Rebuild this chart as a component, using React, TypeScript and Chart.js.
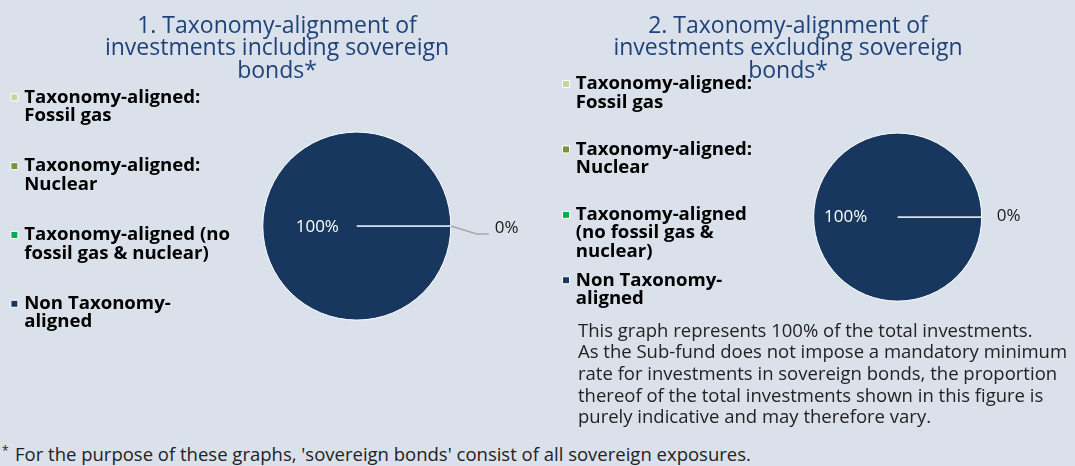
import React, { useEffect, useRef } from "react";
import { Chart, registerables } from "chart.js";

Chart.register(...registerables);

// ---------- data ----------
const legendLinesIncl = [
  ["Taxonomy-aligned:", "Fossil gas"],
  ["Taxonomy-aligned:", "Nuclear"],
  ["Taxonomy-aligned (no", "fossil gas & nuclear)"],
  ["Non Taxonomy-", "aligned"],
];
const legendLinesExcl = [
  ["Taxonomy-aligned:", "Fossil gas"],
  ["Taxonomy-aligned:", "Nuclear"],
  ["Taxonomy-aligned", "(no fossil gas &", "nuclear)"],
  ["Non Taxonomy-", "aligned"],
];
const valuesIncl = [0, 0, 0, 100];
const valuesExcl = [0, 0, 0, 100];
const sliceColors = ["#c3d69b", "#77933c", "#00b050", "#17375e"];
const titleIncl = ["1. Taxonomy-alignment of", "investments including sovereign", "bonds*"];
const titleExcl = ["2. Taxonomy-alignment of", "investments excluding sovereign", "bonds*"];
const noteExcl = [
  "This graph represents 100% of the total investments.",
  "As the Sub-fund does not impose a mandatory minimum",
  "rate for investments in sovereign bonds, the proportion",
  "thereof of the total investments shown in this figure is",
  "purely indicative and may therefore vary.",
];
const footnote = "For the purpose of these graphs, 'sovereign bonds' consist of all sovereign exposures.";

// ---------- style ----------
const FONT = "'Open Sans', sans-serif";
const BG = "#dae1eb";
const TITLE_COLOR = "#1f4279";
const TEXT_COLOR = "#222222";

const pieLabelPlugin = {
  id: "pieLabels",
  afterDatasetsDraw(chart: any, _args: any, opts: any) {
    const ctx = chart.ctx;
    const meta = chart.getDatasetMeta(0);
    const values = chart.data.datasets[0].data as number[];
    const total = values.reduce((a: number, b: number) => a + b, 0);
    const seen = new Set<string>();
    meta.data.forEach((arc: any, i: number) => {
      const p = arc.getProps(["x", "y", "startAngle", "endAngle", "outerRadius"], true);
      const mid = (p.startAngle + p.endAngle) / 2;
      const pct = Math.round((values[i] / total) * 100);
      const text = pct + "%";
      const key = text + "@" + mid.toFixed(4);
      if (seen.has(key)) return;
      seen.add(key);
      const cos = Math.cos(mid);
      const sin = Math.sin(mid);
      ctx.save();
      ctx.font = opts.font;
      ctx.textBaseline = "middle";
      if (pct >= 50) {
        ctx.fillStyle = opts.innerColor;
        ctx.textAlign = "center";
        ctx.fillText(
          text,
          p.x + cos * p.outerRadius * opts.innerFrac,
          p.y + sin * p.outerRadius * opts.innerFrac + opts.innerDy
        );
      } else {
        const ex = p.x + cos * p.outerRadius;
        const ey = p.y + sin * p.outerRadius;
        ctx.fillStyle = opts.outerColor;
        ctx.textAlign = "left";
        if (opts.leader) {
          const L = opts.leader;
          ctx.strokeStyle = L.color;
          ctx.lineWidth = L.width;
          ctx.beginPath();
          ctx.moveTo(ex, ey);
          ctx.lineTo(ex + L.dx, ey + L.dy);
          ctx.lineTo(ex + L.dx + L.len, ey + L.dy);
          ctx.stroke();
          ctx.fillText(text, ex + L.dx + L.len + L.textGap, ey + L.dy + L.textDy);
        } else {
          ctx.fillText(text, ex + opts.outerGap, ey + opts.outerDy);
        }
      }
      ctx.restore();
    });
  },
};

// centre the full-width title over its page column and let legend text overflow its box
const layoutTweakPlugin = {
  id: "layoutTweak",
  afterLayout(chart: any, _args: any, opts: any) {
    const t = chart.titleBlock;
    if (t && opts.titleCenter != null) {
      const half = (t.right - t.left) / 2;
      t.left = opts.titleCenter - half;
      t.right = opts.titleCenter + half;
    }
    const lg = chart.legend;
    if (lg && opts.legendOverflow) {
      lg.right = lg.left + lg.width + opts.legendOverflow;
    }
  },
};

function paddedLabels(chart: any) {
  const base = (Chart as any).overrides.doughnut.plugins.legend.labels.generateLabels(chart);
  return base.map((item: any) => {
    const lines = Array.isArray(item.text) ? [...item.text] : [item.text];
    while (lines.length < 3) lines.push("");
    return { ...item, text: lines };
  });
}

type Cfg = {
  left: number; width: number; height: number; padRight: number;
  labels: string[][]; values: number[]; title: string[]; titleCenter: number;
  radius: number; titleBottom: number; legendPad: number;
  labelOpts: any;
};

const cfgIncl: Cfg = {
  left: 0, width: 520, height: 378, padRight: 25.2,
  labels: legendLinesIncl, values: valuesIncl, title: titleIncl, titleCenter: 277,
  radius: 94, titleBottom: -8.1, legendPad: 13.9,
  labelOpts: {
    font: `17px ${FONT}`, innerColor: "#ffffff", outerColor: "#1a1a1a", innerFrac: 0.42, innerDy: 1,
    leader: { color: "#a6a6a6", width: 1.5, dx: 26, dy: 8, len: 12, textGap: 6, textDy: -6 },
  },
};
const cfgExcl: Cfg = {
  left: 555, width: 479, height: 370, padRight: 0.6,
  labels: legendLinesExcl, values: valuesExcl, title: titleExcl, titleCenter: 233,
  radius: 84, titleBottom: -18, legendPad: 10.5,
  labelOpts: {
    font: `17px ${FONT}`, innerColor: "#ffffff", outerColor: "#1a1a1a", innerFrac: 0.62, innerDy: 0,
    outerGap: 15, outerDy: -1,
  },
};

function PieBlock({ cfg }: { cfg: Cfg }) {
  const ref = useRef<HTMLCanvasElement>(null);
  useEffect(() => {
    if (!ref.current) return;
    const chart = new Chart(ref.current, {
      type: "pie",
      data: {
        labels: cfg.labels as any,
        datasets: [
          {
            data: cfg.values,
            backgroundColor: sliceColors,
            borderColor: "#ffffff",
            borderWidth: 1,
            radius: cfg.radius,
          } as any,
        ],
      },
      options: {
        animation: false,
        responsive: false,
        events: [],
        rotation: 90,
        layout: { padding: { left: 0, top: 0, bottom: 0, right: cfg.padRight } },
        plugins: {
          title: {
            display: true,
            text: cfg.title,
            color: TITLE_COLOR,
            font: { family: FONT, size: 23, weight: "normal", lineHeight: 0.978 },
            padding: { top: 14.75, bottom: cfg.titleBottom },
          },
          legend: {
            position: "left",
            align: "start",
            fullSize: false,
            labels: {
              usePointStyle: true,
              pointStyle: "rect",
              boxWidth: 1,
              boxHeight: 7,
              padding: cfg.legendPad,
              color: "#000000",
              font: { family: FONT, size: 18.6, weight: "bold", lineHeight: 0.984 },
              generateLabels: paddedLabels,
            },
          },
          tooltip: { enabled: false },
          pieLabels: cfg.labelOpts,
          layoutTweak: { titleCenter: cfg.titleCenter, legendOverflow: 80 },
        } as any,
      },
      plugins: [pieLabelPlugin as any, layoutTweakPlugin as any],
    });
    return () => chart.destroy();
  }, []);
  return (
    <canvas
      ref={ref}
      width={cfg.width}
      height={cfg.height}
      style={{ position: "absolute", left: cfg.left, top: 0, width: cfg.width, height: cfg.height }}
    />
  );
}

export default function App() {
  return (
    <div
      style={{
        position: "fixed", left: 0, top: 0, width: 1075, height: 466,
        background: BG, overflow: "hidden", fontFamily: FONT,
      }}
    >
      <PieBlock cfg={cfgIncl} />
      <PieBlock cfg={cfgExcl} />
      <div
        style={{
          position: "absolute", left: 578, top: 318.5, fontSize: 18.5, lineHeight: "21.7px",
          color: TEXT_COLOR, whiteSpace: "pre",
        }}
      >
        {noteExcl.map((l, i) => (
          <div key={i}>{l}</div>
        ))}
      </div>
      <div
        style={{
          position: "absolute", left: 0, top: 442.5, width: 1075, fontSize: 18.5, lineHeight: "21.7px",
          color: TEXT_COLOR, whiteSpace: "pre",
        }}
      >
        <span style={{ position: "absolute", left: 2, top: -3, fontSize: 12 }}>*</span>
        <span style={{ position: "absolute", left: 15 }}>{footnote}</span>
      </div>
    </div>
  );
}
